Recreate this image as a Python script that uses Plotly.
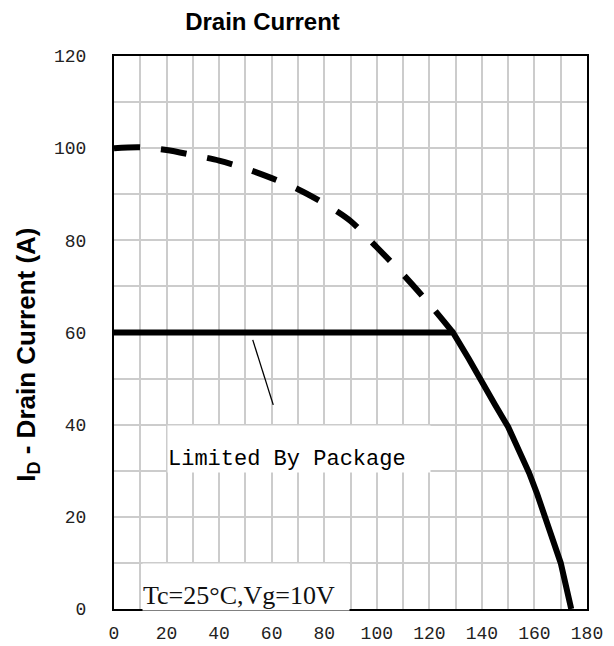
import plotly.graph_objects as go

# Dashed curve (silicon limit)
dash_x = [0, 10, 20, 30, 40, 50, 60, 70, 80, 90, 100, 110, 120, 129]
dash_y = [100, 100.2, 99.6, 98.5, 97.3, 95.6, 93.5, 91.1, 88.0, 84.2, 78.5, 72.6, 66.2, 60]

# Solid curve (package limited)
solid_x = [0, 129, 135, 140, 145, 150, 155, 158, 161, 164, 167, 170, 174]
solid_y = [60, 60, 54.3, 49, 44.3, 39.5, 33.5, 29.5, 25, 20, 15, 10, 0]

# Leader line for the "Limited By Package" label
leader_x = [52.8, 60.6]
leader_y = [58.4, 44.3]

x_ticks = [0, 20, 40, 60, 80, 100, 120, 140, 160, 180]
y_ticks = [0, 20, 40, 60, 80, 100, 120]

fig = go.Figure()
fig.add_trace(go.Scatter(x=dash_x, y=dash_y, mode="lines",
                         line=dict(color="black", width=6, dash="26px,21px", shape="spline", smoothing=0.8),
                         showlegend=False, hoverinfo="skip"))
fig.add_trace(go.Scatter(x=solid_x, y=solid_y, mode="lines",
                         line=dict(color="black", width=6),
                         showlegend=False, hoverinfo="skip"))
fig.add_trace(go.Scatter(x=leader_x, y=leader_y, mode="lines",
                         line=dict(color="black", width=1.3),
                         showlegend=False, hoverinfo="skip"))

grid_col = "#cccccc"
tick_font = dict(family="Liberation Mono, monospace", size=18, color="#222")

fig.update_xaxes(range=[0, 180], tickvals=x_ticks, showgrid=True, gridcolor=grid_col,
                 gridwidth=1.5, minor=dict(dtick=10, showgrid=True, gridcolor=grid_col, gridwidth=1.5),
                 showline=True, linecolor="black", linewidth=2, mirror=True, automargin=False,
                 zeroline=False, ticks="", ticklabelstandoff=6, tickfont=tick_font)
fig.update_yaxes(range=[0, 120], tickvals=y_ticks, showgrid=True, gridcolor=grid_col,
                 gridwidth=1.5, minor=dict(dtick=10, showgrid=True, gridcolor=grid_col, gridwidth=1.5),
                 showline=True, linecolor="black", linewidth=2, mirror=True, automargin=False,
                 zeroline=False, ticks="", ticklabelstandoff=22, tickfont=tick_font)

fig.add_annotation(text="Limited By Package", x=20, y=40, xref="x", yref="y",
                   xanchor="left", yanchor="top", width=262, height=46,
                   bgcolor="white", borderpad=0, align="left", valign="bottom",
                   showarrow=False,
                   font=dict(family="Liberation Mono, monospace", size=22, color="black"))
fig.add_annotation(text="Tc=25°C,Vg=10V", x=10.5, y=10, xref="x", yref="y",
                   xanchor="left", yanchor="top", width=206, height=46,
                   bgcolor="white", borderpad=0, align="left", valign="bottom",
                   showarrow=False,
                   font=dict(family="Liberation Serif, Times New Roman, serif", size=26, color="#111"))
fig.add_annotation(text="<b>I<sub>D</sub> - Drain Current (A)</b>", x=-0.1846, y=0.459,
                   xref="paper", yref="paper", xanchor="center", yanchor="middle",
                   textangle=-90, showarrow=False,
                   font=dict(family="Liberation Sans, Arial, sans-serif", size=26, color="black"))

# the page places the figure 8px in from the top-left corner
fig.update_layout(
    width=606, height=638,
    margin=dict(l=106, r=27, t=48, b=37),
    paper_bgcolor="white", plot_bgcolor="white",
    title=dict(text="<b>Drain Current</b>", x=254.5 / 606, xref="container", xanchor="center",
               y=1 - 14 / 638, yref="container", yanchor="middle",
               font=dict(family="Liberation Sans, Arial, sans-serif", size=24, color="black")),
)

fig.write_html("out.html")
